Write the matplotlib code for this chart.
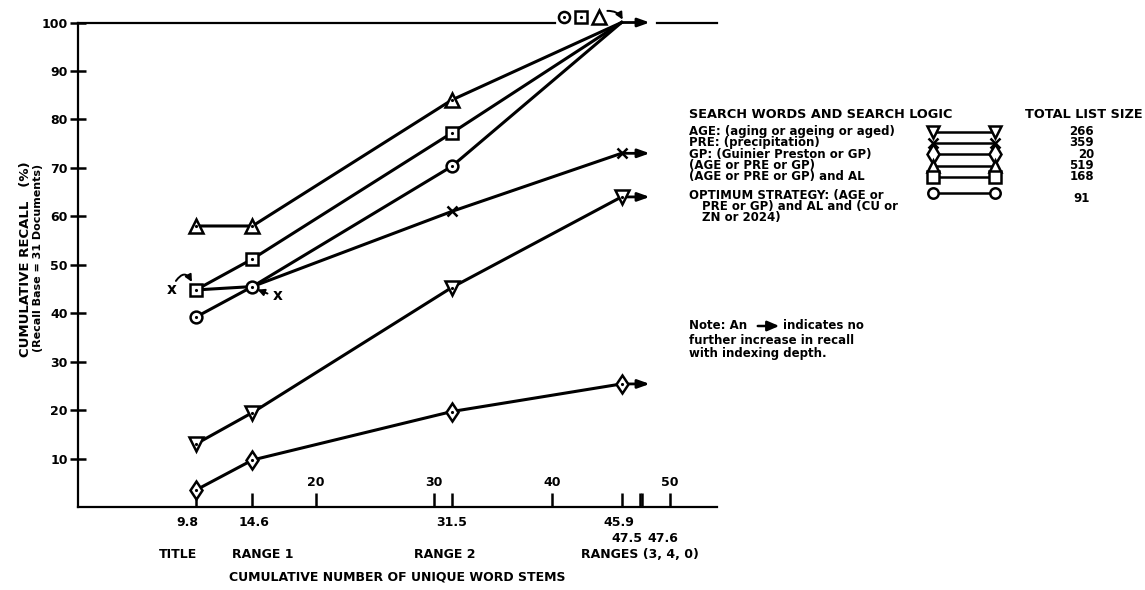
import matplotlib
matplotlib.use("Agg")
import matplotlib.pyplot as plt
from matplotlib.lines import Line2D
from matplotlib.patches import FancyArrowPatch
from matplotlib.transforms import offset_copy

# indexing depth (cumulative unique word stems) and recall per search strategy
stems = [9.8, 14.6, 31.5, 45.9]
recall_age = [13.0, 19.5, 45.3, 64.0]
recall_pre = [44.8, 45.5, 61.0, 73.0]
recall_gp = [3.5, 9.7, 19.7, 25.4]
recall_any = [58.0, 58.0, 84.0, 100.0]
recall_any_al = [44.8, 51.2, 77.2, 100.0]
recall_optimum = [39.2, 45.5, 70.3, 100.0]

strategy_labels = [
    "AGE: (aging or ageing or aged)",
    "PRE: (precipitation)",
    "GP: (Guinier Preston or GP)",
    "(AGE or PRE or GP)",
    "(AGE or PRE or GP) and AL",
    "OPTIMUM STRATEGY: (AGE or",
]
optimum_extra = ["PRE or GP) and AL and (CU or", "ZN or 2024)"]
list_sizes = [266, 359, 20, 519, 168, 91]

upper_ticks = [20, 30, 40, 50]
lower_ticks = [9.8, 14.6, 31.5, 45.9]
second_row_ticks = [47.5, 47.6]
range_names = ["TITLE", "RANGE 1", "RANGE 2", "RANGES (3, 4, 0)"]
range_at = [9.8, 14.6, 31.5, 47.5]

plt.rcParams["font.family"] = ["DejaVu Sans"]
plt.rcParams["font.weight"] = "bold"

W, H = 1145, 590
fig = plt.figure(figsize=(W / 100, H / 100), dpi=100)
ax = fig.add_axes([78 / W, 1 - 507 / H, (717 - 78) / W, (507 - 22.5) / H])
ax.set_xlim(-0.2, 54)
ax.set_ylim(0, 100)


def fpos(x, y):
    # pixel position -> figure fraction
    return x / W, 1 - y / H


def shifted(dx, dy):
    # data coordinates nudged by a few pixels
    return offset_copy(ax.transData, fig=fig, x=dx, y=dy, units="dots")


series = [recall_age, recall_pre, recall_gp, recall_any, recall_any_al, recall_optimum]
markers = ["v", "x", "d", "^", "s", "o"]
msizes = [9.5, 7, 9.5, 9.5, 8, 8.5]
key_sizes = [9, 6.5, 10.5, 8.5, 8, 7.5]

for vals, mk, ms in zip(series, markers, msizes):
    # no marker where a curve reaches 100 % or shares a point with another curve
    me = [i for i, v in enumerate(vals) if v < 100]
    if mk == "x":
        me = [2, 3]
    ax.plot(stems, vals, color="k", lw=2.2, marker=mk, ms=ms, mfc="white",
            mec="k", mew=1.8, markevery=me, clip_on=False, zorder=3)
    if mk != "x":
        ax.plot([stems[i] for i in me], [vals[i] for i in me], ls="none",
                marker=".", ms=2.5, color="k", clip_on=False, zorder=4)

# arrows: no further increase in recall
arrow_end = stems[-1] + 2.4
ends = sorted(set(v[-1] for v in series))
for y in ends:
    ax.annotate("", xy=(arrow_end, y), xytext=(stems[-1], y),
                arrowprops=dict(arrowstyle="-|>,head_length=0.7,head_width=0.25",
                                lw=2, color="k", shrinkA=0, shrinkB=0),
                zorder=2, annotation_clip=False)

# 100 % line across the top
ax.plot([-0.2, 40.25], [100, 100], color="k", lw=1.6, clip_on=False, zorder=2)
ax.plot([48.9, 54], [100, 100], color="k", lw=1.6, clip_on=False, zorder=2)

# key of the three strategies reaching 100 %
for kx, mk, ms in zip([41.0, 42.45, 44.0], ["o", "s", "^"], [8, 8, 10]):
    ax.plot(kx, 101.2, marker=mk, ms=ms, mfc="white", mec="k", mew=1.8,
            clip_on=False, zorder=4)
    if mk != "^":
        ax.plot(kx, 101.2, marker=".", ms=2.5, color="k", clip_on=False, zorder=5)
ax.annotate("", xy=(46.0, 100.6), xytext=(44.7, 102.4),
            arrowprops=dict(arrowstyle="-|>,head_length=0.4,head_width=0.2",
                            connectionstyle="arc3,rad=-0.3", lw=1.4, color="k",
                            shrinkA=0, shrinkB=0),
            annotation_clip=False)

# PRE shares its first two points with other curves
ax.annotate("x", xy=(stems[0], recall_pre[0]), xytext=(-24, 0),
            textcoords="offset pixels", ha="center", va="center", fontsize=11)
ax.annotate("", xy=(stems[0], recall_pre[0]), xycoords=shifted(-4, 8),
            xytext=(stems[0], recall_pre[0]), textcoords=shifted(-20, 9),
            arrowprops=dict(arrowstyle="-|>,head_length=0.4,head_width=0.2",
                            connectionstyle="arc3,rad=-0.8", lw=1.4, color="k",
                            shrinkA=0, shrinkB=0))
ax.annotate("x", xy=(stems[1], recall_pre[1]), xytext=(25, -9),
            textcoords="offset pixels", ha="center", va="center", fontsize=11)
ax.annotate("", xy=(stems[1], recall_pre[1]), xycoords=shifted(5, -3),
            xytext=(stems[1], recall_pre[1]), textcoords=shifted(15, -7),
            arrowprops=dict(arrowstyle="-|>,head_length=0.4,head_width=0.2",
                            lw=1.4, color="k", shrinkA=0, shrinkB=0))

# axes frame
for side in ("top", "right"):
    ax.spines[side].set_visible(False)
for side in ("left", "bottom"):
    ax.spines[side].set_linewidth(1.6)

ax.set_yticks(range(10, 101, 10))
ax.tick_params(axis="y", direction="inout", length=11, width=1.8, pad=2,
               labelsize=9)
ax.set_xticks(upper_ticks + lower_ticks + second_row_ticks)
ax.set_xticklabels([])
ax.tick_params(axis="x", direction="in", length=10, width=1.8)

xcoords = ("data", "axes fraction")
for v in upper_ticks:
    ax.annotate(str(v), xy=(v, 0), xycoords=xcoords, xytext=(0, 24),
                textcoords="offset pixels", ha="center", va="center", fontsize=9)
for v, dx in zip(lower_ticks, [-9, 2, 0, -3]):
    ax.annotate(str(v), xy=(v, 0), xycoords=xcoords, xytext=(dx, -15),
                textcoords="offset pixels", ha="center", va="center", fontsize=9)
for v, dx in zip(second_row_ticks, [-13, 21]):
    ax.annotate(str(v), xy=(v, 0), xycoords=xcoords, xytext=(dx, -31),
                textcoords="offset pixels", ha="center", va="center", fontsize=9)
for name, v, dx in zip(range_names, range_at, [-18, 10, -7, 0]):
    ax.annotate(name, xy=(v, 0), xycoords=xcoords, xytext=(dx, -48),
                textcoords="offset pixels", ha="center", va="center", fontsize=9)

fig.text(*fpos(397, 577), "CUMULATIVE NUMBER OF UNIQUE WORD STEMS",
         ha="center", va="center", fontsize=9)
fig.text(*fpos(26, 259), "CUMULATIVE RECALL   (%)", rotation=90,
         ha="center", va="center", fontsize=9.5)
fig.text(*fpos(38, 258), "(Recall Base = 31 Documents)", rotation=90,
         ha="center", va="center", fontsize=8)

# strategy key
fig.text(*fpos(689, 114), "SEARCH WORDS AND SEARCH LOGIC", va="center", fontsize=9.3)
fig.text(*fpos(1025, 114), "TOTAL LIST SIZE", va="center", fontsize=9.3)
row_y = [131.7, 142.7, 154.3, 165.7, 176.7, 195]
for label, y, mk, ms, n in zip(strategy_labels, row_y, markers, key_sizes, list_sizes):
    fig.text(*fpos(689, y), label, va="center", fontsize=8.5)
    ys = y - 2 if mk == "o" else y
    fig.add_artist(Line2D([933 / W, 995 / W], [1 - ys / H] * 2, color="k", lw=1.8,
                          marker=mk, ms=ms, mfc="white", mec="k", mew=1.8))
    yn = y + 3 if mk == "o" else y
    xn = 1090 if mk == "o" else 1094
    fig.text(*fpos(xn, yn), str(n), ha="right", va="center", fontsize=8.5)
for i, line in enumerate(optimum_extra):
    fig.text(*fpos(702, 195 + 11.5 * (i + 1)), line, va="center", fontsize=8.5)

# note
fig.text(*fpos(689, 326), "Note: An", va="center", fontsize=8.5)
fig.add_artist(FancyArrowPatch(fpos(755, 326), fpos(782, 326),
                               transform=fig.transFigure,
                               arrowstyle="-|>,head_length=0.7,head_width=0.3",
                               lw=1.8, color="k", mutation_scale=10))
fig.text(*fpos(783, 326), "indicates no", va="center", fontsize=8.5)
fig.text(*fpos(689, 340), "further increase in recall", va="center", fontsize=8.5)
fig.text(*fpos(689, 354), "with indexing depth.", va="center", fontsize=8.5)

fig.savefig("out.png", dpi=100)
